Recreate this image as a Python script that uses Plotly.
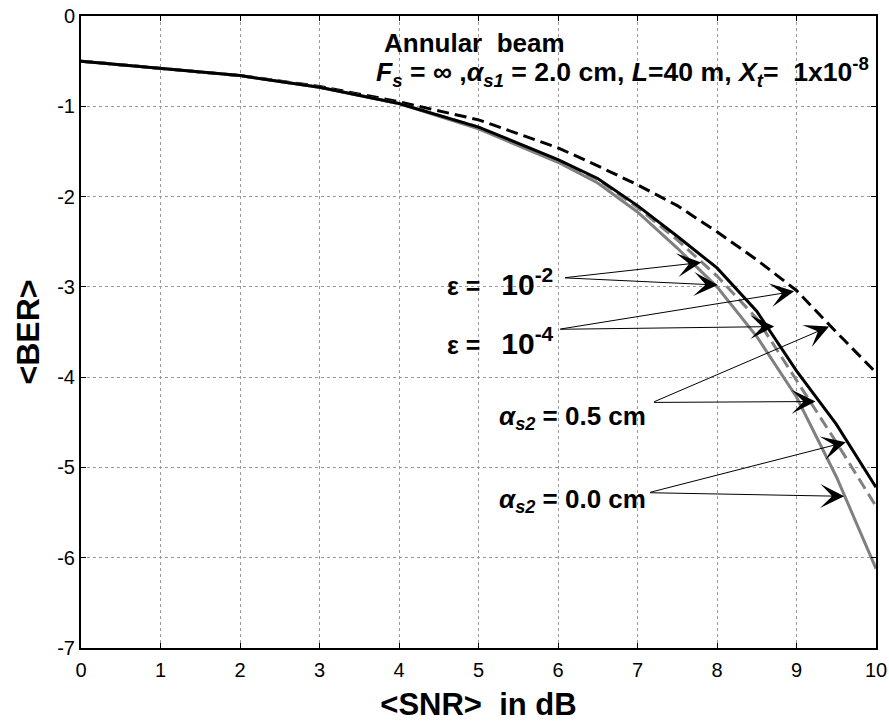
import plotly.graph_objects as go

# ---- data ----
snr_db = [0, 1, 2, 3, 4, 5, 6, 6.5, 7, 7.5, 8, 8.5, 9, 9.5, 10]

ber_eps4_a00 = [-0.50, -0.58, -0.66, -0.79, -0.97, -1.23, -1.59, -1.80, -2.10, -2.44, -2.79, -3.27, -3.93, -4.52, -5.22]
ber_eps2_a00 = [-0.50, -0.58, -0.66, -0.79, -0.97, -1.25, -1.62, -1.85, -2.17, -2.57, -3.00, -3.55, -4.22, -5.10, -6.12]
ber_eps2_a05 = [-0.50, -0.58, -0.66, -0.79, -0.97, -1.23, -1.60, -1.81, -2.12, -2.48, -2.88, -3.35, -4.03, -4.72, -5.43]
ber_eps4_a05 = [-0.50, -0.58, -0.66, -0.78, -0.95, -1.15, -1.46, -1.66, -1.87, -2.10, -2.39, -2.70, -3.04, -3.50, -3.95]

x_ticks = list(range(0, 11))
x_tick_labels = [str(v) for v in x_ticks]
y_ticks = list(range(-7, 1))
y_tick_labels = ["-7", "-6", "-5", "-4", "-3", "-2", "-1", "0"]

# arrows: (label, start_x, start_y, tip_x, tip_y)
arrows = [
    ("eps2", 6.07, -2.90, 7.80, -2.73),
    ("eps2", 6.07, -2.90, 8.01, -2.98),
    ("eps4", 6.01, -3.47, 8.97, -3.05),
    ("eps4", 6.01, -3.47, 8.72, -3.44),
    ("a05", 7.19, -4.28, 9.41, -3.44),
    ("a05", 7.19, -4.28, 9.24, -4.27),
    ("a00", 7.14, -5.28, 9.62, -4.72),
    ("a00", 7.14, -5.28, 9.60, -5.32),
]

FONT = "Arial, Liberation Sans, sans-serif"
GRAY = "#808080"

fig = go.Figure()
fig.add_trace(go.Scatter(x=snr_db, y=ber_eps4_a05, mode="lines",
                         line=dict(color="black", width=3, dash="12px,6px")))
fig.add_trace(go.Scatter(x=snr_db, y=ber_eps2_a05, mode="lines",
                         line=dict(color=GRAY, width=3, dash="12px,6px")))
fig.add_trace(go.Scatter(x=snr_db, y=ber_eps2_a00, mode="lines",
                         line=dict(color=GRAY, width=3)))
fig.add_trace(go.Scatter(x=snr_db, y=ber_eps4_a00, mode="lines",
                         line=dict(color="black", width=3)))

annotations = []
for _, sx, sy, tx, ty in arrows:
    annotations.append(dict(x=tx, y=ty, ax=sx, ay=sy, xref="x", yref="y",
                            axref="x", ayref="y", text="", showarrow=True,
                            arrowhead=3, arrowsize=4, arrowwidth=1,
                            arrowcolor="black"))

lab_font = dict(family=FONT, size=26, color="black", weight="bold")
eps_text = "\u03b5 =   <span style='font-size:30px'>10<sup>{}</sup></span>"
annotations += [
    dict(x=3.78, y=-0.30, xref="x", yref="y", xanchor="left", yanchor="middle",
         text="Annular  beam", showarrow=False, font=lab_font),
    dict(x=3.68, y=-0.62, xref="x", yref="y", xanchor="left", yanchor="middle",
         text="<i>F</i><sub><i>s</i></sub> = \u221e ,<i>\u03b1</i><sub><i>s1</i></sub> = 2.0 cm, "
              "<i>L</i>=40 m, <i>X</i><sub><i>t</i></sub>=  1x10<sup>-8</sup>",
         showarrow=False, font=dict(lab_font, size=26.6)),
    dict(x=4.58, y=-2.95, xref="x", yref="y", xanchor="left", yanchor="middle",
         text=eps_text.format("-2"), showarrow=False, font=dict(lab_font, size=25)),
    dict(x=4.58, y=-3.60, xref="x", yref="y", xanchor="left", yanchor="middle",
         text=eps_text.format("-4"), showarrow=False, font=dict(lab_font, size=25)),
    dict(x=5.23, y=-4.45, xref="x", yref="y", xanchor="left", yanchor="middle",
         text="<i>\u03b1</i><sub><i>s2</i></sub> = 0.5 cm", showarrow=False,
         font=dict(lab_font, size=26)),
    dict(x=5.23, y=-5.37, xref="x", yref="y", xanchor="left", yanchor="middle",
         text="<i>\u03b1</i><sub><i>s2</i></sub> = 0.0 cm", showarrow=False,
         font=dict(lab_font, size=26)),
]

axis_common = dict(showline=True, linecolor="black", linewidth=2, mirror="ticks",
                   ticks="inside", ticklen=5, tickcolor="black", tickwidth=1,
                   showgrid=True, gridcolor="#9a9a9a", griddash="dot", gridwidth=1,
                   zeroline=False, automargin=False, ticklabeloverflow="allow",
                   tickfont=dict(family=FONT, size=20, color="black"))

fig.update_layout(
    width=889, height=722,
    margin=dict(l=81, r=13, t=16, b=74),
    paper_bgcolor="white", plot_bgcolor="white",
    showlegend=False,
    annotations=annotations,
    xaxis=dict(axis_common, range=[0, 10], tickvals=x_ticks, ticktext=x_tick_labels,
               ticklabelstandoff=3,
               title=dict(text="&lt;SNR&gt;  in dB", standoff=21,
                          font=dict(family=FONT, size=31, color="black", weight="bold"))),
    yaxis=dict(axis_common, range=[-7, 0], tickvals=y_ticks, ticktext=y_tick_labels,
               title=dict(text="&lt;BER&gt;", standoff=8,
                          font=dict(family=FONT, size=32, color="black", weight="bold"))),
)

# remove the default 8px page margin so the figure fills the 889x722 window
fig.write_html("out.html",
               config={"displayModeBar": False},
               post_script="document.body.style.margin='0px';"
                           "document.body.style.overflow='hidden';")
